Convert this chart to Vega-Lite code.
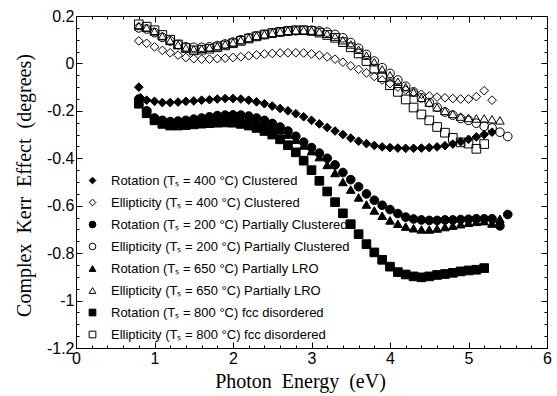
{
"$schema": "https://vega.github.io/schema/vega-lite/v6.json",
"width": 471, "height": 332,
"autosize": {"type": "none"},
"padding": {"left": 76, "top": 16, "right": 10, "bottom": 48},
"background": "white",
"config": {"view": {"stroke": "black", "strokeWidth": 1}, "axis": {"domainColor": "black", "tickColor": "black", "labelColor": "black", "titleColor": "black", "grid": false},
 "legend": {"orient": "none", "legendX": 10, "legendY": 158, "padding": 0, "symbolSize": 45, "symbolStrokeColor": "black", "symbolStrokeWidth": 1, "labelFont": "Liberation Sans", "labelFontSize": 13, "labelColor": "black", "labelOffset": 12, "rowPadding": 8, "labelLimit": 400}},
"datasets": {"kerr": [
{"s":"A","E":0.8,"K":-0.10},{"s":"A","E":0.82,"K":-0.145},{"s":"A","E":0.9,"K":-0.155},{"s":"A","E":1.0,"K":-0.16},{"s":"A","E":1.1,"K":-0.165},{"s":"A","E":1.2,"K":-0.165},{"s":"A","E":1.3,"K":-0.163},{"s":"A","E":1.4,"K":-0.16},{"s":"A","E":1.5,"K":-0.158},{"s":"A","E":1.6,"K":-0.155},{"s":"A","E":1.7,"K":-0.153},{"s":"A","E":1.8,"K":-0.15},{"s":"A","E":1.9,"K":-0.148},{"s":"A","E":2.0,"K":-0.148},{"s":"A","E":2.1,"K":-0.15},{"s":"A","E":2.2,"K":-0.155},{"s":"A","E":2.3,"K":-0.162},{"s":"A","E":2.4,"K":-0.17},{"s":"A","E":2.5,"K":-0.18},{"s":"A","E":2.6,"K":-0.19},{"s":"A","E":2.7,"K":-0.2},{"s":"A","E":2.8,"K":-0.212},{"s":"A","E":2.9,"K":-0.225},{"s":"A","E":3.0,"K":-0.24},{"s":"A","E":3.1,"K":-0.255},{"s":"A","E":3.2,"K":-0.27},{"s":"A","E":3.3,"K":-0.285},{"s":"A","E":3.4,"K":-0.3},{"s":"A","E":3.5,"K":-0.315},{"s":"A","E":3.6,"K":-0.328},{"s":"A","E":3.7,"K":-0.338},{"s":"A","E":3.8,"K":-0.346},{"s":"A","E":3.9,"K":-0.352},{"s":"A","E":4.0,"K":-0.355},{"s":"A","E":4.1,"K":-0.357},{"s":"A","E":4.2,"K":-0.358},{"s":"A","E":4.3,"K":-0.358},{"s":"A","E":4.4,"K":-0.357},{"s":"A","E":4.5,"K":-0.355},{"s":"A","E":4.6,"K":-0.352},{"s":"A","E":4.7,"K":-0.347},{"s":"A","E":4.8,"K":-0.34},{"s":"A","E":4.9,"K":-0.33},{"s":"A","E":5.0,"K":-0.32},{"s":"A","E":5.1,"K":-0.31},{"s":"A","E":5.2,"K":-0.3},{"s":"A","E":5.3,"K":-0.29},
{"s":"B","E":0.8,"K":0.095},{"s":"B","E":0.9,"K":0.085},{"s":"B","E":1.0,"K":0.07},{"s":"B","E":1.1,"K":0.055},{"s":"B","E":1.2,"K":0.045},{"s":"B","E":1.3,"K":0.035},{"s":"B","E":1.4,"K":0.025},{"s":"B","E":1.5,"K":0.02},{"s":"B","E":1.6,"K":0.018},{"s":"B","E":1.7,"K":0.018},{"s":"B","E":1.8,"K":0.02},{"s":"B","E":1.9,"K":0.022},{"s":"B","E":2.0,"K":0.025},{"s":"B","E":2.1,"K":0.028},{"s":"B","E":2.2,"K":0.032},{"s":"B","E":2.3,"K":0.036},{"s":"B","E":2.4,"K":0.04},{"s":"B","E":2.5,"K":0.042},{"s":"B","E":2.6,"K":0.044},{"s":"B","E":2.7,"K":0.045},{"s":"B","E":2.8,"K":0.045},{"s":"B","E":2.9,"K":0.044},{"s":"B","E":3.0,"K":0.04},{"s":"B","E":3.1,"K":0.035},{"s":"B","E":3.2,"K":0.028},{"s":"B","E":3.3,"K":0.018},{"s":"B","E":3.4,"K":0.005},{"s":"B","E":3.5,"K":-0.01},{"s":"B","E":3.6,"K":-0.025},{"s":"B","E":3.7,"K":-0.04},{"s":"B","E":3.8,"K":-0.055},{"s":"B","E":3.9,"K":-0.07},{"s":"B","E":4.0,"K":-0.085},{"s":"B","E":4.1,"K":-0.1},{"s":"B","E":4.2,"K":-0.112},{"s":"B","E":4.3,"K":-0.122},{"s":"B","E":4.4,"K":-0.13},{"s":"B","E":4.5,"K":-0.137},{"s":"B","E":4.6,"K":-0.142},{"s":"B","E":4.7,"K":-0.145},{"s":"B","E":4.8,"K":-0.148},{"s":"B","E":4.9,"K":-0.15},{"s":"B","E":5.0,"K":-0.15},{"s":"B","E":5.1,"K":-0.14},{"s":"B","E":5.2,"K":-0.115},{"s":"B","E":5.3,"K":-0.155},
{"s":"C","E":0.8,"K":-0.15},{"s":"C","E":0.9,"K":-0.2},{"s":"C","E":1.0,"K":-0.23},{"s":"C","E":1.1,"K":-0.24},{"s":"C","E":1.2,"K":-0.245},{"s":"C","E":1.3,"K":-0.243},{"s":"C","E":1.4,"K":-0.24},{"s":"C","E":1.5,"K":-0.235},{"s":"C","E":1.6,"K":-0.23},{"s":"C","E":1.7,"K":-0.225},{"s":"C","E":1.8,"K":-0.22},{"s":"C","E":1.9,"K":-0.218},{"s":"C","E":2.0,"K":-0.217},{"s":"C","E":2.1,"K":-0.218},{"s":"C","E":2.2,"K":-0.222},{"s":"C","E":2.3,"K":-0.23},{"s":"C","E":2.4,"K":-0.24},{"s":"C","E":2.5,"K":-0.253},{"s":"C","E":2.6,"K":-0.268},{"s":"C","E":2.7,"K":-0.285},{"s":"C","E":2.8,"K":-0.307},{"s":"C","E":2.9,"K":-0.332},{"s":"C","E":3.0,"K":-0.355},{"s":"C","E":3.1,"K":-0.378},{"s":"C","E":3.2,"K":-0.4},{"s":"C","E":3.3,"K":-0.428},{"s":"C","E":3.4,"K":-0.46},{"s":"C","E":3.5,"K":-0.49},{"s":"C","E":3.6,"K":-0.52},{"s":"C","E":3.7,"K":-0.55},{"s":"C","E":3.8,"K":-0.577},{"s":"C","E":3.9,"K":-0.598},{"s":"C","E":4.0,"K":-0.616},{"s":"C","E":4.1,"K":-0.633},{"s":"C","E":4.2,"K":-0.648},{"s":"C","E":4.3,"K":-0.656},{"s":"C","E":4.4,"K":-0.66},{"s":"C","E":4.5,"K":-0.662},{"s":"C","E":4.6,"K":-0.662},{"s":"C","E":4.7,"K":-0.66},{"s":"C","E":4.8,"K":-0.66},{"s":"C","E":4.9,"K":-0.658},{"s":"C","E":5.0,"K":-0.657},{"s":"C","E":5.1,"K":-0.655},{"s":"C","E":5.2,"K":-0.655},{"s":"C","E":5.3,"K":-0.655},{"s":"C","E":5.4,"K":-0.685},{"s":"C","E":5.5,"K":-0.637},
{"s":"D","E":0.8,"K":0.15},{"s":"D","E":0.9,"K":0.145},{"s":"D","E":1.0,"K":0.13},{"s":"D","E":1.1,"K":0.11},{"s":"D","E":1.2,"K":0.095},{"s":"D","E":1.3,"K":0.08},{"s":"D","E":1.4,"K":0.07},{"s":"D","E":1.5,"K":0.068},{"s":"D","E":1.6,"K":0.068},{"s":"D","E":1.7,"K":0.07},{"s":"D","E":1.8,"K":0.075},{"s":"D","E":1.9,"K":0.082},{"s":"D","E":2.0,"K":0.09},{"s":"D","E":2.1,"K":0.1},{"s":"D","E":2.2,"K":0.108},{"s":"D","E":2.3,"K":0.116},{"s":"D","E":2.4,"K":0.122},{"s":"D","E":2.5,"K":0.128},{"s":"D","E":2.6,"K":0.132},{"s":"D","E":2.7,"K":0.136},{"s":"D","E":2.8,"K":0.138},{"s":"D","E":2.9,"K":0.14},{"s":"D","E":3.0,"K":0.14},{"s":"D","E":3.1,"K":0.137},{"s":"D","E":3.2,"K":0.132},{"s":"D","E":3.3,"K":0.122},{"s":"D","E":3.4,"K":0.108},{"s":"D","E":3.5,"K":0.088},{"s":"D","E":3.6,"K":0.064},{"s":"D","E":3.7,"K":0.038},{"s":"D","E":3.8,"K":0.01},{"s":"D","E":3.9,"K":-0.018},{"s":"D","E":4.0,"K":-0.042},{"s":"D","E":4.1,"K":-0.07},{"s":"D","E":4.2,"K":-0.096},{"s":"D","E":4.3,"K":-0.12},{"s":"D","E":4.4,"K":-0.145},{"s":"D","E":4.5,"K":-0.165},{"s":"D","E":4.6,"K":-0.185},{"s":"D","E":4.7,"K":-0.205},{"s":"D","E":4.8,"K":-0.218},{"s":"D","E":4.9,"K":-0.232},{"s":"D","E":5.0,"K":-0.24},{"s":"D","E":5.1,"K":-0.252},{"s":"D","E":5.2,"K":-0.265},{"s":"D","E":5.3,"K":-0.272},{"s":"D","E":5.4,"K":-0.29},{"s":"D","E":5.5,"K":-0.308},
{"s":"E","E":0.8,"K":-0.16},{"s":"E","E":0.9,"K":-0.21},{"s":"E","E":1.0,"K":-0.235},{"s":"E","E":1.1,"K":-0.245},{"s":"E","E":1.2,"K":-0.248},{"s":"E","E":1.3,"K":-0.245},{"s":"E","E":1.4,"K":-0.24},{"s":"E","E":1.5,"K":-0.236},{"s":"E","E":1.6,"K":-0.232},{"s":"E","E":1.7,"K":-0.228},{"s":"E","E":1.8,"K":-0.225},{"s":"E","E":1.9,"K":-0.223},{"s":"E","E":2.0,"K":-0.222},{"s":"E","E":2.1,"K":-0.224},{"s":"E","E":2.2,"K":-0.23},{"s":"E","E":2.3,"K":-0.24},{"s":"E","E":2.4,"K":-0.252},{"s":"E","E":2.5,"K":-0.265},{"s":"E","E":2.6,"K":-0.282},{"s":"E","E":2.7,"K":-0.3},{"s":"E","E":2.8,"K":-0.322},{"s":"E","E":2.9,"K":-0.346},{"s":"E","E":3.0,"K":-0.37},{"s":"E","E":3.1,"K":-0.395},{"s":"E","E":3.2,"K":-0.428},{"s":"E","E":3.3,"K":-0.462},{"s":"E","E":3.4,"K":-0.5},{"s":"E","E":3.5,"K":-0.532},{"s":"E","E":3.6,"K":-0.565},{"s":"E","E":3.7,"K":-0.595},{"s":"E","E":3.8,"K":-0.62},{"s":"E","E":3.9,"K":-0.642},{"s":"E","E":4.0,"K":-0.662},{"s":"E","E":4.1,"K":-0.676},{"s":"E","E":4.2,"K":-0.688},{"s":"E","E":4.3,"K":-0.695},{"s":"E","E":4.4,"K":-0.7},{"s":"E","E":4.5,"K":-0.7},{"s":"E","E":4.6,"K":-0.696},{"s":"E","E":4.7,"K":-0.69},{"s":"E","E":4.8,"K":-0.684},{"s":"E","E":4.9,"K":-0.678},{"s":"E","E":5.0,"K":-0.672},{"s":"E","E":5.1,"K":-0.668},{"s":"E","E":5.2,"K":-0.665},{"s":"E","E":5.3,"K":-0.675},{"s":"E","E":5.4,"K":-0.655},
{"s":"F","E":0.8,"K":0.158},{"s":"F","E":0.9,"K":0.15},{"s":"F","E":1.0,"K":0.135},{"s":"F","E":1.1,"K":0.115},{"s":"F","E":1.2,"K":0.095},{"s":"F","E":1.3,"K":0.078},{"s":"F","E":1.4,"K":0.065},{"s":"F","E":1.5,"K":0.06},{"s":"F","E":1.6,"K":0.062},{"s":"F","E":1.7,"K":0.066},{"s":"F","E":1.8,"K":0.072},{"s":"F","E":1.9,"K":0.08},{"s":"F","E":2.0,"K":0.088},{"s":"F","E":2.1,"K":0.098},{"s":"F","E":2.2,"K":0.107},{"s":"F","E":2.3,"K":0.116},{"s":"F","E":2.4,"K":0.123},{"s":"F","E":2.5,"K":0.129},{"s":"F","E":2.6,"K":0.134},{"s":"F","E":2.7,"K":0.138},{"s":"F","E":2.8,"K":0.14},{"s":"F","E":2.9,"K":0.14},{"s":"F","E":3.0,"K":0.138},{"s":"F","E":3.1,"K":0.133},{"s":"F","E":3.2,"K":0.125},{"s":"F","E":3.3,"K":0.113},{"s":"F","E":3.4,"K":0.098},{"s":"F","E":3.5,"K":0.08},{"s":"F","E":3.6,"K":0.058},{"s":"F","E":3.7,"K":0.033},{"s":"F","E":3.8,"K":0.005},{"s":"F","E":3.9,"K":-0.025},{"s":"F","E":4.0,"K":-0.05},{"s":"F","E":4.1,"K":-0.077},{"s":"F","E":4.2,"K":-0.1},{"s":"F","E":4.3,"K":-0.122},{"s":"F","E":4.4,"K":-0.145},{"s":"F","E":4.5,"K":-0.165},{"s":"F","E":4.6,"K":-0.185},{"s":"F","E":4.7,"K":-0.2},{"s":"F","E":4.8,"K":-0.213},{"s":"F","E":4.9,"K":-0.224},{"s":"F","E":5.0,"K":-0.23},{"s":"F","E":5.1,"K":-0.232},{"s":"F","E":5.2,"K":-0.232},{"s":"F","E":5.3,"K":-0.235},{"s":"F","E":5.4,"K":-0.24},
{"s":"G","E":0.8,"K":-0.17},{"s":"G","E":0.9,"K":-0.21},{"s":"G","E":1.0,"K":-0.24},{"s":"G","E":1.1,"K":-0.255},{"s":"G","E":1.2,"K":-0.262},{"s":"G","E":1.3,"K":-0.262},{"s":"G","E":1.4,"K":-0.26},{"s":"G","E":1.5,"K":-0.257},{"s":"G","E":1.6,"K":-0.254},{"s":"G","E":1.7,"K":-0.252},{"s":"G","E":1.8,"K":-0.25},{"s":"G","E":1.9,"K":-0.249},{"s":"G","E":2.0,"K":-0.25},{"s":"G","E":2.1,"K":-0.255},{"s":"G","E":2.2,"K":-0.262},{"s":"G","E":2.3,"K":-0.272},{"s":"G","E":2.4,"K":-0.285},{"s":"G","E":2.5,"K":-0.3},{"s":"G","E":2.6,"K":-0.32},{"s":"G","E":2.7,"K":-0.345},{"s":"G","E":2.8,"K":-0.375},{"s":"G","E":2.9,"K":-0.41},{"s":"G","E":3.0,"K":-0.45},{"s":"G","E":3.1,"K":-0.495},{"s":"G","E":3.2,"K":-0.54},{"s":"G","E":3.3,"K":-0.585},{"s":"G","E":3.4,"K":-0.632},{"s":"G","E":3.5,"K":-0.678},{"s":"G","E":3.6,"K":-0.72},{"s":"G","E":3.7,"K":-0.762},{"s":"G","E":3.8,"K":-0.797},{"s":"G","E":3.9,"K":-0.828},{"s":"G","E":4.0,"K":-0.857},{"s":"G","E":4.1,"K":-0.88},{"s":"G","E":4.2,"K":-0.89},{"s":"G","E":4.3,"K":-0.898},{"s":"G","E":4.4,"K":-0.902},{"s":"G","E":4.5,"K":-0.898},{"s":"G","E":4.6,"K":-0.892},{"s":"G","E":4.7,"K":-0.888},{"s":"G","E":4.8,"K":-0.883},{"s":"G","E":4.9,"K":-0.877},{"s":"G","E":5.0,"K":-0.873},{"s":"G","E":5.1,"K":-0.87},{"s":"G","E":5.2,"K":-0.863},
{"s":"H","E":0.8,"K":0.165},{"s":"H","E":0.9,"K":0.155},{"s":"H","E":1.0,"K":0.14},{"s":"H","E":1.1,"K":0.12},{"s":"H","E":1.2,"K":0.1},{"s":"H","E":1.3,"K":0.08},{"s":"H","E":1.4,"K":0.065},{"s":"H","E":1.5,"K":0.055},{"s":"H","E":1.6,"K":0.058},{"s":"H","E":1.7,"K":0.062},{"s":"H","E":1.8,"K":0.068},{"s":"H","E":1.9,"K":0.076},{"s":"H","E":2.0,"K":0.085},{"s":"H","E":2.1,"K":0.095},{"s":"H","E":2.2,"K":0.105},{"s":"H","E":2.3,"K":0.114},{"s":"H","E":2.4,"K":0.122},{"s":"H","E":2.5,"K":0.128},{"s":"H","E":2.6,"K":0.133},{"s":"H","E":2.7,"K":0.137},{"s":"H","E":2.8,"K":0.14},{"s":"H","E":2.9,"K":0.14},{"s":"H","E":3.0,"K":0.137},{"s":"H","E":3.1,"K":0.13},{"s":"H","E":3.2,"K":0.12},{"s":"H","E":3.3,"K":0.108},{"s":"H","E":3.4,"K":0.09},{"s":"H","E":3.5,"K":0.068},{"s":"H","E":3.6,"K":0.042},{"s":"H","E":3.7,"K":0.01},{"s":"H","E":3.8,"K":-0.022},{"s":"H","E":3.9,"K":-0.058},{"s":"H","E":4.0,"K":-0.092},{"s":"H","E":4.1,"K":-0.12},{"s":"H","E":4.2,"K":-0.152},{"s":"H","E":4.3,"K":-0.186},{"s":"H","E":4.4,"K":-0.215},{"s":"H","E":4.5,"K":-0.24},{"s":"H","E":4.6,"K":-0.268},{"s":"H","E":4.7,"K":-0.292},{"s":"H","E":4.8,"K":-0.314},{"s":"H","E":4.9,"K":-0.333},{"s":"H","E":5.0,"K":-0.338},{"s":"H","E":5.1,"K":-0.36},{"s":"H","E":5.2,"K":-0.34}
]},
"data": {"name": "kerr"},
"layer": [
{
"mark": {"type": "point", "strokeWidth": 1, "opacity": 1, "size": 75},
"encoding": {
"x": {"field": "E", "type": "quantitative", "scale": {"domain": [0, 6], "nice": false, "zero": false},
 "axis": {"orient": "bottom", "values": [0,0.2,0.4,0.6,0.8,1,1.2,1.4,1.6,1.8,2,2.2,2.4,2.6,2.8,3,3.2,3.4,3.6,3.8,4,4.2,4.4,4.6,4.8,5,5.2,5.4,5.6,5.8,6],
  "labelExpr": "abs(datum.value - round(datum.value)) < 0.001 ? format(datum.value, 'd') : ''",
  "tickSize": {"condition": {"test": "abs(datum.value - round(datum.value)) < 0.001", "value": -6}, "value": -3},
  "labelPadding": 8, "labelFont": "Liberation Sans", "labelFontSize": 16, "labelFlush": false, "labelOverlap": false,
  "title": "Photon\u00a0 Energy\u00a0 (eV)", "titleFont": "Liberation Serif", "titleFontSize": 20, "titleFontWeight": "normal",
  "titleX": 224, "titleY": 39, "titleAlign": "center", "titleBaseline": "alphabetic"}},
"y": {"field": "K", "type": "quantitative", "scale": {"domain": [-1.2, 0.2], "nice": false, "zero": false},
 "axis": {"orient": "left", "values": [-1.2,-1.15,-1.1,-1.05,-1,-0.95,-0.9,-0.85,-0.8,-0.75,-0.7,-0.65,-0.6,-0.55,-0.5,-0.45,-0.4,-0.35,-0.3,-0.25,-0.2,-0.15,-0.1,-0.05,0,0.05,0.1,0.15,0.2],
  "labelExpr": "abs(datum.value*5 - round(datum.value*5)) < 0.001 ? (datum.value < -0.001 ? '-' : '') + format(abs(datum.value), '~g') : ''",
  "tickSize": {"condition": {"test": "abs(datum.value*5 - round(datum.value*5)) < 0.001", "value": -6}, "value": -3},
  "labelPadding": 8, "labelFont": "Liberation Sans", "labelFontSize": 16, "labelFlush": false, "labelOverlap": false,
  "title": "Complex\u00a0 Kerr\u00a0 Effect\u00a0 (degrees)", "titleFont": "Liberation Serif", "titleFontSize": 20, "titleFontWeight": "normal",
  "titleX": -46, "titleY": 169, "titleAlign": "center", "titleBaseline": "alphabetic", "titleAngle": -90}},
"shape": {"field": "s", "type": "nominal",
 "scale": {"domain": ["A","B","C","D","E","F","G","H"], "range": ["diamond","diamond","circle","circle","triangle-up","triangle-up","square","square"]},
 "legend": {"title": null,
  "labelExpr": "['Rotation (T\u209b = 400 \u00b0C) Clustered','Ellipticity (T\u209b = 400 \u00b0C) Clustered','Rotation (T\u209b = 200 \u00b0C) Partially Clustered','Ellipticity (T\u209b = 200 \u00b0C) Partially Clustered','Rotation (T\u209b = 650 \u00b0C) Partially LRO','Ellipticity (T\u209b = 650 \u00b0C) Partially LRO','Rotation (T\u209b = 800 \u00b0C) fcc disordered','Ellipticity (T\u209b = 800 \u00b0C) fcc disordered'][indexof(['A','B','C','D','E','F','G','H'], datum.label)]"}},
"fill": {"field": "s", "type": "nominal",
 "scale": {"domain": ["A","B","C","D","E","F","G","H"], "range": ["black","transparent","black","transparent","black","transparent","black","transparent"]},
 "legend": {"title": null,
  "labelExpr": "['Rotation (T\u209b = 400 \u00b0C) Clustered','Ellipticity (T\u209b = 400 \u00b0C) Clustered','Rotation (T\u209b = 200 \u00b0C) Partially Clustered','Ellipticity (T\u209b = 200 \u00b0C) Partially Clustered','Rotation (T\u209b = 650 \u00b0C) Partially LRO','Ellipticity (T\u209b = 650 \u00b0C) Partially LRO','Rotation (T\u209b = 800 \u00b0C) fcc disordered','Ellipticity (T\u209b = 800 \u00b0C) fcc disordered'][indexof(['A','B','C','D','E','F','G','H'], datum.label)]"}},
"stroke": {"field": "s", "type": "nominal",
 "scale": {"domain": ["A","B","C","D","E","F","G","H"], "range": ["black","black","black","black","black","black","black","black"]},
 "legend": {"title": null,
  "labelExpr": "['Rotation (T\u209b = 400 \u00b0C) Clustered','Ellipticity (T\u209b = 400 \u00b0C) Clustered','Rotation (T\u209b = 200 \u00b0C) Partially Clustered','Ellipticity (T\u209b = 200 \u00b0C) Partially Clustered','Rotation (T\u209b = 650 \u00b0C) Partially LRO','Ellipticity (T\u209b = 650 \u00b0C) Partially LRO','Rotation (T\u209b = 800 \u00b0C) fcc disordered','Ellipticity (T\u209b = 800 \u00b0C) fcc disordered'][indexof(['A','B','C','D','E','F','G','H'], datum.label)]"}}
}
},
{
"mark": {"type": "point", "opacity": 0},
"encoding": {
"x": {"field": "E", "type": "quantitative",
 "axis": {"orient": "top", "values": [0,0.2,0.4,0.6,0.8,1,1.2,1.4,1.6,1.8,2,2.2,2.4,2.6,2.8,3,3.2,3.4,3.6,3.8,4,4.2,4.4,4.6,4.8,5,5.2,5.4,5.6,5.8,6], "labels": false, "title": null,
  "tickSize": {"condition": {"test": "abs(datum.value - round(datum.value)) < 0.001", "value": -6}, "value": -3}}},
"y": {"field": "K", "type": "quantitative",
 "axis": {"orient": "right", "values": [-1.2,-1.15,-1.1,-1.05,-1,-0.95,-0.9,-0.85,-0.8,-0.75,-0.7,-0.65,-0.6,-0.55,-0.5,-0.45,-0.4,-0.35,-0.3,-0.25,-0.2,-0.15,-0.1,-0.05,0,0.05,0.1,0.15,0.2], "labels": false, "title": null,
  "tickSize": {"condition": {"test": "abs(datum.value*5 - round(datum.value*5)) < 0.001", "value": -6}, "value": -3}}}
}
}
],
"resolve": {"axis": {"x": "independent", "y": "independent"}}
}
